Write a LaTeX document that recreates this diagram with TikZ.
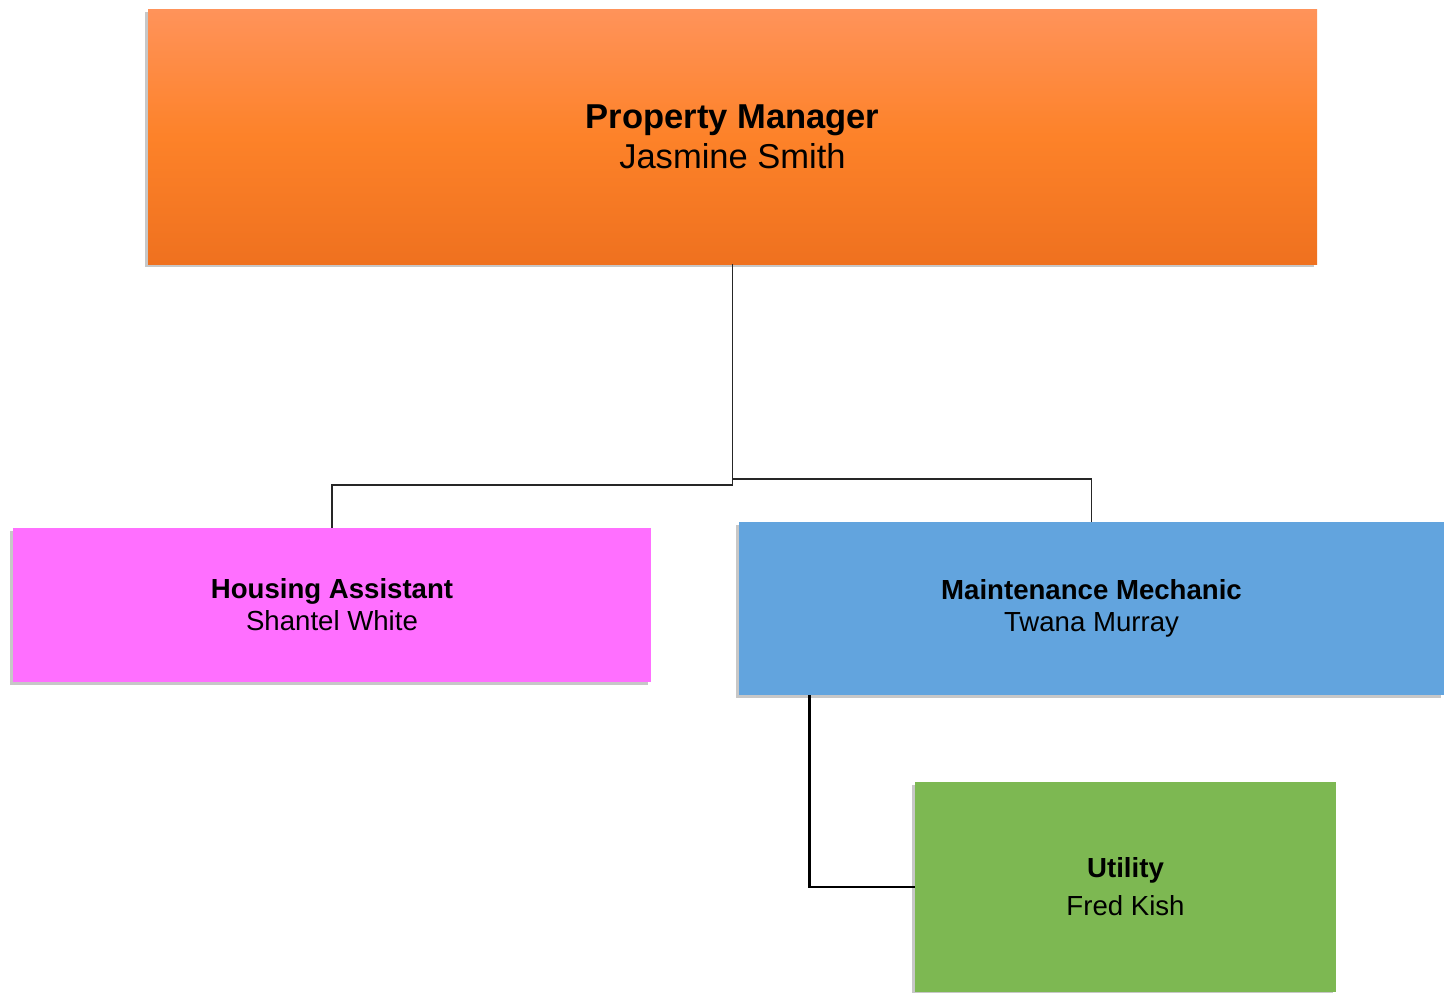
\documentclass[tikz,border=0pt]{standalone}
\usepackage{fontspec}
\setmainfont{Liberation Sans}
\usetikzlibrary{shadows}

\definecolor{pmtop}{HTML}{FF935A}
\definecolor{pmmid}{HTML}{FD8229}
\definecolor{pmbot}{HTML}{EF711F}
\definecolor{hapink}{HTML}{FF6FFF}
\definecolor{mmblue}{HTML}{62A4DE}
\definecolor{utgreen}{HTML}{7DB852}

\tikzset{
  box/.style={rectangle, inner sep=0pt, align=center,
    drop shadow={shadow xshift=-2.5pt, shadow yshift=-2.5pt, fill=black, opacity=0.22}},
  link/.style={draw=black!85, line width=1.3pt},
}

\begin{document}
\begin{tikzpicture}[x=0.75pt, y=-0.75pt]

% Picture size, one unit per pixel
\useasboundingbox (0,0) rectangle (1452,992);

% Property manager on top
\node[box, top color=pmtop, bottom color=pmbot, middle color=pmmid,
  minimum width=876.75pt, minimum height=191.25pt,
  font=\fontsize{25.9}{30}\selectfont] (pm) at (732.5,136.5)
  {\textbf{Property Manager}\\Jasmine Smith};

% Housing assistant
\node[box, fill=hapink, minimum width=478.5pt, minimum height=115.5pt,
  font=\fontsize{20.7}{24}\selectfont] (ha) at (332,605)
  {\textbf{Housing Assistant}\\Shantel White};

% Maintenance mechanic
\node[box, fill=mmblue, minimum width=528.75pt, minimum height=129.75pt,
  font=\fontsize{20.7}{24}\selectfont] (mm) at (1091.5,608.5)
  {\textbf{Maintenance Mechanic}\\Twana Murray};

% Utility
\node[box, fill=utgreen, minimum width=315.75pt, minimum height=157.5pt,
  font=\fontsize{20.7}{28.5}\selectfont] (ut) at (1125.5,887)
  {\textbf{Utility}\\Fred Kish};

% Connectors
\draw[link] (pm.south) -- ++(0,221) -| (ha.north);
\draw[link] (pm.south) -- ++(0,215) -| (mm.north);
\draw[link, line width=1.9pt, draw=black] (mm.south west) ++(71,0) |- (ut.west);

\end{tikzpicture}
\end{document}
